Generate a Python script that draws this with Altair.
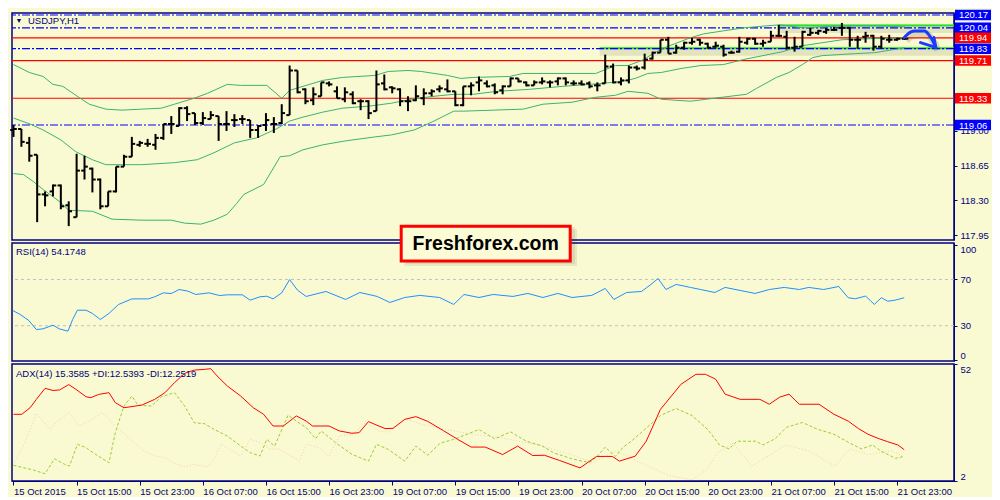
import altair as alt
import pandas as pd

BG = "#fafad2"
NAVY = "#000080"
FONT = "Liberation Sans"

# ---------------- price bars (hourly, index 0 = 15 Oct 07:00) ----------------
opens = [119.01,119.02,118.88,118.76,118.36,118.39,118.45,118.25,118.13,118.60,
         118.62,118.51,118.24,118.39,118.64,118.74,118.86,118.87,118.86,118.93,
         119.07,119.05,119.23,119.18,119.08,119.12,119.15,119.07,119.11,119.12,
         119.11,119.01,119.06,119.07,119.08,119.16,119.61,119.42,119.31,119.35,
         119.48,119.40,119.32,119.37,119.30,119.30,119.20,119.48,119.44,119.42,
         119.30,119.31,119.33,119.38,119.42,119.42,119.40,119.26,119.45,119.49,
         119.48,119.46,119.41,119.45,119.53,119.49,119.46,119.49,119.49,119.50,
         119.53,119.48,119.48,119.48,119.46,119.48,119.65,119.49,119.51,119.64,
         119.64,119.73,119.79,119.92,119.79,119.84,119.89,119.92,119.88,119.85,
         119.85,119.79,119.80,119.89,119.93,119.88,119.90,119.96,119.95,119.84,
         119.85,119.97,119.99,120.00,120.02,120.04,120.04,119.92,119.95,119.96,
         119.85,119.92,119.92,119.93]
highs = [119.06,119.02,118.94,118.76,118.39,118.46,118.46,118.29,118.77,118.75,
         118.63,118.52,118.39,118.64,118.76,118.94,118.90,118.92,118.97,119.07,
         119.15,119.24,119.25,119.18,119.19,119.20,119.15,119.20,119.17,119.16,
         119.11,119.06,119.18,119.14,119.27,119.66,119.61,119.43,119.44,119.49,
         119.50,119.45,119.44,119.40,119.32,119.31,119.61,119.57,119.45,119.43,
         119.35,119.46,119.43,119.42,119.46,119.52,119.40,119.45,119.49,119.55,
         119.51,119.48,119.46,119.54,119.53,119.50,119.51,119.54,119.51,119.54,
         119.54,119.51,119.51,119.50,119.49,119.77,119.68,119.54,119.66,119.66,
         119.78,119.80,119.92,119.95,119.87,119.90,119.94,119.93,119.89,119.90,
         119.87,119.81,119.95,119.94,119.94,119.92,120.01,120.07,120.01,119.95,
         120.01,120.04,120.02,120.04,120.05,120.09,120.05,119.96,120.00,119.97,
         119.96,119.97,119.94,119.96]
lows = [118.94,118.84,118.69,118.08,118.24,118.34,118.21,118.04,118.13,118.51,
        118.38,118.21,118.24,118.38,118.64,118.74,118.84,118.84,118.81,118.91,
        118.97,119.05,119.10,119.06,119.06,119.12,118.90,119.00,119.04,119.07,
        118.93,118.93,119.00,118.98,119.07,119.16,119.38,119.27,119.26,119.35,
        119.45,119.33,119.29,119.27,119.21,119.12,119.20,119.41,119.38,119.25,
        119.20,119.30,119.26,119.35,119.39,119.39,119.25,119.25,119.36,119.40,
        119.44,119.37,119.37,119.45,119.49,119.45,119.46,119.47,119.44,119.46,
        119.46,119.46,119.46,119.43,119.40,119.48,119.48,119.46,119.48,119.61,
        119.62,119.72,119.79,119.78,119.78,119.82,119.87,119.86,119.83,119.84,
        119.75,119.78,119.79,119.87,119.87,119.85,119.90,119.95,119.82,119.80,
        119.85,119.96,119.97,119.98,120.01,119.96,119.85,119.83,119.89,119.81,
        119.83,119.89,119.91,119.92]
closes = [119.02,118.89,118.75,118.36,118.35,118.45,118.24,118.19,118.60,118.64,
          118.51,118.24,118.39,118.64,118.74,118.87,118.88,118.87,118.93,119.07,
          119.07,119.23,119.17,119.08,119.13,119.16,119.07,119.07,119.11,119.12,
          119.01,119.05,119.11,119.07,119.18,119.61,119.39,119.30,119.37,119.49,
          119.47,119.33,119.39,119.28,119.30,119.18,119.47,119.42,119.43,119.30,
          119.30,119.35,119.38,119.40,119.43,119.40,119.26,119.45,119.46,119.51,
          119.45,119.39,119.45,119.53,119.50,119.46,119.49,119.50,119.49,119.53,
          119.49,119.48,119.47,119.45,119.46,119.65,119.49,119.51,119.64,119.63,
          119.72,119.79,119.92,119.78,119.84,119.89,119.90,119.89,119.84,119.86,
          119.77,119.79,119.90,119.93,119.88,119.89,119.96,119.96,119.84,119.85,
          120.00,119.99,120.01,120.02,120.02,120.04,119.92,119.92,119.96,119.85,
          119.93,119.92,119.93,119.93]

# ---------------- Bollinger bands (read at sample bars) ----------------
bb_up_x = [0,2,3.75,5,6.25,7.9,9.6,11.7,13.75,16.25,18.75,20.4,22.9,24.6,27.1,28.75,32.1,34,35,36.7,
           39.2,41.7,45.8,47.5,50,51.7,55,56.7,58.3,62.9,64.6,73.8,76.3,77.9,79.6,81.3,82.5,83.8,85.8,
           87.5,90,92.5,95.4,97,98.3,100,102.5,105,109.2,113]
bb_up = [119.67,119.59,119.55,119.47,119.45,119.36,119.27,119.22,119.21,119.22,119.23,119.27,119.33,119.38,
         119.47,119.46,119.46,119.33,119.41,119.45,119.51,119.54,119.56,119.60,119.61,119.60,119.56,119.53,
         119.54,119.55,119.58,119.58,119.66,119.66,119.71,119.79,119.84,119.88,119.94,119.98,120.01,120.04,
         120.06,120.07,120.06,120.04,120.05,120.06,120.06,120.05]
bb_mid_x = [0,2.1,3.75,6,7.9,10,11.7,16.25,20.4,23.3,25.4,28,30.8,33.3,35,36.7,39.2,41.7,45,47.9,50.4,
            53.3,55.8,58.3,61.3,65.4,69.6,74.6,77.1,78.8,80.4,82.1,84.6,87.1,90,92.5,95,97.5,100,102.5,
            105,108.3,113]
bb_mid = [119.13,119.07,119.01,118.91,118.79,118.71,118.66,118.66,118.68,118.71,118.78,118.88,118.93,
          119.02,119.10,119.14,119.19,119.23,119.25,119.28,119.32,119.35,119.37,119.37,119.40,119.42,
          119.45,119.48,119.50,119.53,119.58,119.59,119.63,119.66,119.67,119.72,119.76,119.80,119.86,
          119.89,119.92,119.93,119.94]
bb_low_x = [0,1.25,2.5,3.75,5.8,7,10,12.5,16.25,20,21.7,23.75,25.4,27.1,28.3,29.2,31.7,33.8,35,36.7,
            39.2,42.1,45.8,47.9,50.8,53.3,55.8,57.1,64.6,67.1,70.8,73.8,76.3,77.9,80.4,82.1,85.8,88.8,
            92.9,94.2,96.7,98.3,100,101.3,102.5,106.7,109.2,113]
bb_low = [118.57,118.56,118.49,118.41,118.29,118.20,118.19,118.11,118.10,118.10,118.07,118.06,118.10,
          118.16,118.27,118.36,118.46,118.74,118.75,118.81,118.86,118.90,118.94,118.96,119.01,119.10,
          119.20,119.20,119.22,119.27,119.29,119.34,119.36,119.40,119.38,119.32,119.30,119.33,119.37,
          119.43,119.54,119.59,119.67,119.74,119.76,119.78,119.79,119.84]

# ---------------- levels and drawn objects ----------------
X_MIN, X_MAX = -0.19, 119.21
levels_blue = [120.17, 120.04, 119.83, 119.06]
levels_red = [119.94, 119.71, 119.33]
drawn_start = [74.3, 97.0]
drawn_end = [X_MAX, X_MAX]
drawn_price = [119.835, 120.065]
arrow_x = [112.9, 113.75, 114.2, 115.5, 116.05, 116.46, 116.9]
arrow_p = [119.943, 119.999, 120.009, 120.009, 119.967, 119.918, 119.843]
barb_x = [114.96, 116.67]
barb_p = [119.891, 119.943]
barb_x2 = [116.9, 116.9]
barb_p2 = [119.843, 119.843]
price_ticks = [117.95, 118.30, 118.65, 119.00, 119.35]

# ---------------- RSI(14) ----------------
rsi_x = [-0.1,0.84,1.9,2.9,3.75,5,5.8,6.9,7.5,8.1,9.2,10,11,12.1,13.3,15,17.1,17.9,19,20,21,22.1,23.1,
         24.8,26.1,27.1,29,30,31.25,32.1,32.9,34,35,36,37.1,39.6,42.1,43.9,46.1,47.7,49.6,51.5,54,55.8,
         57.1,59,60.8,63.3,65.2,67.1,69,70.8,73.3,75,76.1,77.7,79.6,80.8,81.7,82.7,84,85.8,87.1,88.9,
         90.2,92.1,94,95.8,97.7,99.6,100.8,102.7,104.6,105.8,106.7,108,108.6,109.1,110,110.8,111.5,
         112.1,112.9]
rsi_v = [43.2,39.7,34.8,26.7,27.3,30.5,27.3,25.3,35.4,43.4,43.4,40.6,35.4,40.6,48.3,53.2,53.2,55.0,58.4,
         57.8,61.3,59.9,57.0,58.4,56.1,56.7,56.7,52.1,55.0,55.5,53.2,58.4,69.9,60.7,55.3,59.6,52.7,58.7,
         55.3,50.1,54.4,56.2,54.4,48.4,57.0,54.4,57.0,55.3,57.9,54.4,57.9,54.4,56.2,62.2,52.7,58.7,59.6,
         65.7,70.8,61.3,65.7,63.1,61.3,58.7,63.1,60.5,57.9,61.3,63.1,61.3,63.1,61.3,63.9,54.2,53.3,55.6,
         51.8,48.4,54.2,51.2,51.8,52.7,54.2]

# ---------------- ADX(14) ----------------
adx_x = [0,1.05,2.1,2.9,4,5,5.84,7,7.9,9.2,9.8,10.8,12.1,12.9,14,15.4,16.3,17.9,19.2,20.4,21.7,22.9,24.2,
         25,25.8,27.1,28.8,30.4,31.7,32.9,34.2,35.85,37.1,37.9,40,41.3,42.9,43.8,45,45.8,47.1,48.1,49.6,
         51,52.5,54.5,56.3,58,59.8,62,63.9,65.8,67.3,69.2,71.8,73.9,75.9,76.8,78.8,80.2,82,84.6,86.5,
         87.7,89,90.2,92.1,94.6,95.8,97.1,98.3,99.6,102.1,104,105.8,107.1,108.3,109.6,110.8,112.1,112.9]
adx_v = [30.5,30.5,33.3,36.9,41.6,40.7,40.9,43.2,41.2,38.0,37.6,39.0,39.75,35.5,33.3,34.0,34.5,36.9,39.75,
         44.0,48.0,49.4,49.7,50.0,46.9,42.6,38.3,33.3,30.5,25.5,25.5,29.8,27.6,25.5,25.5,23.4,22.4,22.65,
         27.4,26.2,24.4,24.5,28.35,29.5,27.5,23.5,19.8,16.5,16.5,13.3,16.9,12.9,13.0,10.8,7.6,12.5,12.5,
         10.5,12.6,19.0,32.6,43.3,47.6,47.6,45.5,39.1,36.9,36.9,34.8,37.8,39.1,34.8,34.8,30.5,27.6,24.4,
         22.0,20.2,18.8,17.4,15.4]
pdi_x = [0,1.25,2.5,4,5.2,6.5,7.1,8.1,9.2,10.4,12.1,12.9,14,15,15.8,17.5,18.75,20.4,21.7,22.9,24.2,25.4,
         27.1,28.8,30,31.25,32.1,33.1,34.8,35.85,37.1,38.3,39,40.8,42.9,45,46,47.5,49.6,51,52.5,54.1,
         55.8,57.5,59,61,63,65,67,68.5,70.6,71.6,73,74,75,76.3,77.3,78.3,80,82,84,86,88,89.5,90.7,
         91.7,94.1,95,96.5,98,100,102,104,106,107.5,108.9,109.9,111.8,112.9]
pdi_v = [8.7,7.7,6.7,5.1,11.5,9.1,8.4,17.7,16.2,13.4,9.8,22.65,34.05,38.3,34.3,34.05,38.0,39.75,34.05,26.9,
         26.5,24.1,21.2,16.95,14.1,12.7,19.8,16.95,30.1,27.6,24.8,20.1,23.4,18.4,13.4,10.5,17.7,15.5,10.5,
         16.9,13.0,18.2,19.8,22.0,24.0,20.0,23.0,19.0,17.0,14.0,11.7,10.8,10.0,12.5,16.5,12.5,16.5,19.0,
         24.0,30.0,33.0,30.0,24.0,17.4,15.7,19.0,19.0,17.4,20.0,25.0,27.0,24.0,22.0,18.2,15.7,17.4,14.9,
         11.7,12.5]
mdi_x = [0,1.25,2.9,4.6,5.84,7.1,8.3,9.6,11.25,12.9,14.6,16.3,17.9,19.2,20.4,21.7,22.9,24.6,25.4,26.3,
         28.8,30,31.25,32.5,33.75,36.25,37.1,38.75,40,41.3,42.9,44.6,46.3,47.5,49.6,52,55,58,61,64,67,
         70,73.5,76.4,79.3,83.1,86,87.8,89.3,91.2,93.6,96,97.9,100.8,104.1,106,108.4,111.3,112.9]
mdi_v = [9.1,17.0,30.9,24.1,28.35,31.2,25.5,27.6,31.2,25.5,20.5,15.5,12.7,12.0,9.5,8.1,9.1,8.0,11.25,17.7,
         12.7,19.8,18.4,15.8,15.5,10.5,17.7,16.2,12.7,21.2,21.9,26.9,23.4,22.9,28.6,26.0,24.0,22.0,21.0,
         19.0,17.0,14.0,10.0,14.9,10.0,4.3,2.5,6.7,14.1,18.2,8.4,13.3,17.4,14.9,8.4,15.7,13.3,14.9,12.25]

time_labels = ["15 Oct 2015", "15 Oct 15:00", "15 Oct 23:00", "16 Oct 07:00", "16 Oct 15:00",
               "16 Oct 23:00", "19 Oct 07:00", "19 Oct 15:00", "19 Oct 23:00", "20 Oct 07:00",
               "20 Oct 15:00", "20 Oct 23:00", "21 Oct 07:00", "21 Oct 15:00", "21 Oct 23:00"]
time_ticks = [8 * k for k in range(len(time_labels))]

# ---------------- build ----------------
W = 942
H_MAIN, H_RSI, H_ADX = 227, 118, 117
xs = alt.Scale(domain=[X_MIN, X_MAX], nice=False, zero=False)
ys = alt.Scale(domain=[117.90, 120.19], nice=False, zero=False)
rs = alt.Scale(domain=[-0.5, 101.5], nice=False, zero=False)
ads = alt.Scale(domain=[2, 52], nice=False, zero=False)

axis_common = dict(orient="right", tickSize=3, tickColor=NAVY, domainColor=NAVY, labelColor=NAVY,
                   labelFont=FONT, labelFontSize=9.5, labelPadding=3, grid=False, title="",
                   labelOverlap=False)
main_axis = alt.Axis(values=price_ticks, format=".2f", labelFlush=False, **axis_common)
rsi_axis = alt.Axis(values=[0, 30, 70, 100], labelFlush=3, **axis_common)
adx_axis = alt.Axis(values=[2, 52], labelFlush=3, **axis_common)
label_expr = "[" + ",".join("'" + s + "'" for s in time_labels) + "][round(datum.value / 8)]"
x_axis = alt.Axis(values=time_ticks, labelExpr=label_expr, labelAlign="left", tickSize=4,
                  labelPadding=1, tickColor=NAVY, domainColor=NAVY, labelColor=NAVY, labelFont=FONT,
                  labelFontSize=9.5, grid=False, title="", labelFlush=False, labelOverlap=False,
                  orient="bottom")

def XN(f):
    return alt.X(f, type="quantitative", scale=xs, axis=None)

def YM(f):
    return alt.Y(f, type="quantitative", scale=ys, axis=main_axis)

bars_df = pd.DataFrame({"i": list(range(len(opens))), "o": opens, "h": highs, "l": lows, "c": closes})
bands_df = pd.concat([
    pd.DataFrame({"band": "up", "x": bb_up_x, "v": bb_up}),
    pd.DataFrame({"band": "mid", "x": bb_mid_x, "v": bb_mid}),
    pd.DataFrame({"band": "low", "x": bb_low_x, "v": bb_low}),
])
drawn_df = pd.DataFrame({"x1": drawn_start, "x2": drawn_end, "p": drawn_price})
boxes_df = pd.concat([
    pd.DataFrame({"p": levels_blue, "col": "#0000ff"}),
    pd.DataFrame({"p": levels_red, "col": "#ff0000"}),
])

drawn_shadow = alt.Chart(drawn_df).mark_rule(
    color="#707050", opacity=0.16, strokeWidth=9, yOffset=3).encode(x=XN("x1"), x2="x2:Q", y=YM("p"))
drawn = alt.Chart(drawn_df).mark_rule(color="#22e622", strokeWidth=2).encode(
    x=XN("x1"), x2="x2:Q", y=YM("p"))
lv_blue = alt.Chart(pd.DataFrame({"p": levels_blue})).mark_rule(
    color="#0000ff", strokeWidth=1.2, strokeDash=[8, 2, 2, 2]).encode(y=YM("p"))
lv_red = alt.Chart(pd.DataFrame({"p": levels_red})).mark_rule(
    color="#ff0000", strokeWidth=1.2).encode(y=YM("p"))
bands = alt.Chart(bands_df).mark_line(color="#3cb371", strokeWidth=1).encode(
    x=XN("x"), y=YM("v"), detail="band:N")
hl = alt.Chart(bars_df).mark_rule(color="black", strokeWidth=2).encode(
    x=XN("i"), y=YM("l"), y2="h:Q")
otick = alt.Chart(bars_df).transform_calculate(xo="datum.i - 0.42").mark_rule(
    color="black", strokeWidth=2).encode(x=XN("xo"), x2="i:Q", y=YM("o"))
ctick = alt.Chart(bars_df).transform_calculate(xc="datum.i + 0.42").mark_rule(
    color="black", strokeWidth=2).encode(x=XN("i"), x2="xc:Q", y=YM("c"))

arrow_df = pd.DataFrame({"x": arrow_x, "p": arrow_p})
barb_df = pd.DataFrame({"x": barb_x, "p": barb_p, "x2": barb_x2, "p2": barb_p2})
arrow_shadow = alt.Chart(arrow_df).mark_line(
    color="#606040", opacity=0.22, strokeWidth=7, interpolate="monotone", xOffset=2, yOffset=3).encode(
    x=XN("x"), y=YM("p"))
arrow = alt.Chart(arrow_df).mark_line(
    color="#1a3cff", strokeWidth=3, interpolate="monotone", strokeCap="round").encode(
    x=XN("x"), y=YM("p"))
barbs = alt.Chart(barb_df).mark_rule(color="#1a3cff", strokeWidth=3, strokeCap="round").encode(
    x=XN("x"), x2="x2:Q", y=YM("p"), y2="p2:Q")

box_rect = alt.Chart(boxes_df).transform_calculate(
    top="datum.p + 0.053", bot="datum.p - 0.053").mark_rect().encode(
    x=alt.value(943), x2=alt.value(979), y=YM("top"), y2="bot:Q",
    color=alt.Color("col:N", scale=None))
box_text = alt.Chart(boxes_df).mark_text(
    align="left", baseline="middle", color="white", font=FONT, fontSize=9.5, dy=0.5).encode(
    x=alt.value(947), y=YM("p"), text=alt.Text("p:Q", format=".2f"))

sym_tri = alt.Chart(pd.DataFrame({"t": ["\u25BC"]})).mark_text(
    align="center", baseline="middle", color=NAVY, fontSize=7).encode(
    x=alt.value(7), y=alt.value(7.5), text="t:N")
sym_lab = alt.Chart(pd.DataFrame({"t": ["USDJPY,H1"]})).mark_text(
    align="left", baseline="middle", color=NAVY, font=FONT, fontSize=9.5).encode(
    x=alt.value(16), y=alt.value(8), text="t:N")

main = alt.layer(drawn_shadow, drawn, lv_blue, lv_red, bands, hl, otick, ctick,
                 arrow_shadow, arrow, barbs, sym_tri, sym_lab, box_rect, box_text).properties(
    width=W, height=H_MAIN)

# RSI panel
rsi_lv = alt.Chart(pd.DataFrame({"v": [30, 70]})).mark_rule(
    color="#c0c0c0", strokeWidth=1, strokeDash=[3, 3]).encode(
    y=alt.Y("v:Q", scale=rs, axis=rsi_axis))
rsi_line = alt.Chart(pd.DataFrame({"x": rsi_x, "v": rsi_v})).mark_line(
    color="#1e90ff", strokeWidth=1).encode(x=XN("x"), y=alt.Y("v:Q", scale=rs, axis=rsi_axis))
rsi_lab = alt.Chart(pd.DataFrame({"t": ["RSI(14) 54.1748"]})).mark_text(
    align="left", baseline="middle", color=NAVY, font=FONT, fontSize=9.5).encode(
    x=alt.value(4), y=alt.value(9), text="t:N")

one = pd.DataFrame({"t": ["Freshforex.com"]})
logo_sh1 = alt.Chart(one).mark_rect(color="#505030", opacity=0.10).encode(
    x=alt.value(392), x2=alt.value(565), y=alt.value(-14), y2=alt.value(23))
logo_sh2 = alt.Chart(one).mark_rect(color="#505030", opacity=0.10).encode(
    x=alt.value(394), x2=alt.value(563), y=alt.value(-16), y2=alt.value(21))
logo_box = alt.Chart(one).mark_rect(fill="#fbfbd6", stroke="#ff0000", strokeWidth=3).encode(
    x=alt.value(389.2), x2=alt.value(558.2), y=alt.value(-16.8), y2=alt.value(17.9))
logo_txt = alt.Chart(one).mark_text(
    align="center", baseline="middle", color="black", font=FONT, fontSize=19.5, fontWeight="bold").encode(
    x=alt.value(473.7), y=alt.value(1), text="t:N")

rsi = alt.layer(rsi_lv, rsi_line, rsi_lab, logo_sh1, logo_sh2, logo_box, logo_txt).properties(
    width=W, height=H_RSI)

# ADX panel
def XA(f):
    return alt.X(f, type="quantitative", scale=xs, axis=x_axis)

def YA(f):
    return alt.Y(f, type="quantitative", scale=ads, axis=adx_axis)

adx_line = alt.Chart(pd.DataFrame({"x": adx_x, "v": adx_v})).mark_line(
    color="#ff0000", strokeWidth=1).encode(x=XA("x"), y=YA("v"))
pdi_line = alt.Chart(pd.DataFrame({"x": pdi_x, "v": pdi_v})).mark_line(
    color="#9acd32", strokeWidth=1, strokeDash=[3, 2]).encode(x=XA("x"), y=YA("v"))
mdi_line = alt.Chart(pd.DataFrame({"x": mdi_x, "v": mdi_v})).mark_line(
    color="#f5cdb6", strokeWidth=1, strokeDash=[1, 2]).encode(x=XA("x"), y=YA("v"))
adx_lab = alt.Chart(pd.DataFrame({"t": ["ADX(14) 15.3585 +DI:12.5393 -DI:12.2519"]})).mark_text(
    align="left", baseline="middle", color=NAVY, font=FONT, fontSize=9.5).encode(
    x=alt.value(4), y=alt.value(9.5), text="t:N")

adx = alt.layer(mdi_line, pdi_line, adx_line, adx_lab).properties(width=W, height=H_ADX)

chart = alt.vconcat(main, rsi, adx, spacing=3, bounds="flush").properties(
    background=BG, padding={"left": 0, "top": 0, "right": 0, "bottom": 0}).configure(
    padding={"left": 0, "top": 0, "right": 0, "bottom": 0}).configure_view(
    stroke=NAVY, strokeWidth=1.5, fill=BG)

chart.save("out.html", embed_options={"renderer": "svg", "actions": False})
